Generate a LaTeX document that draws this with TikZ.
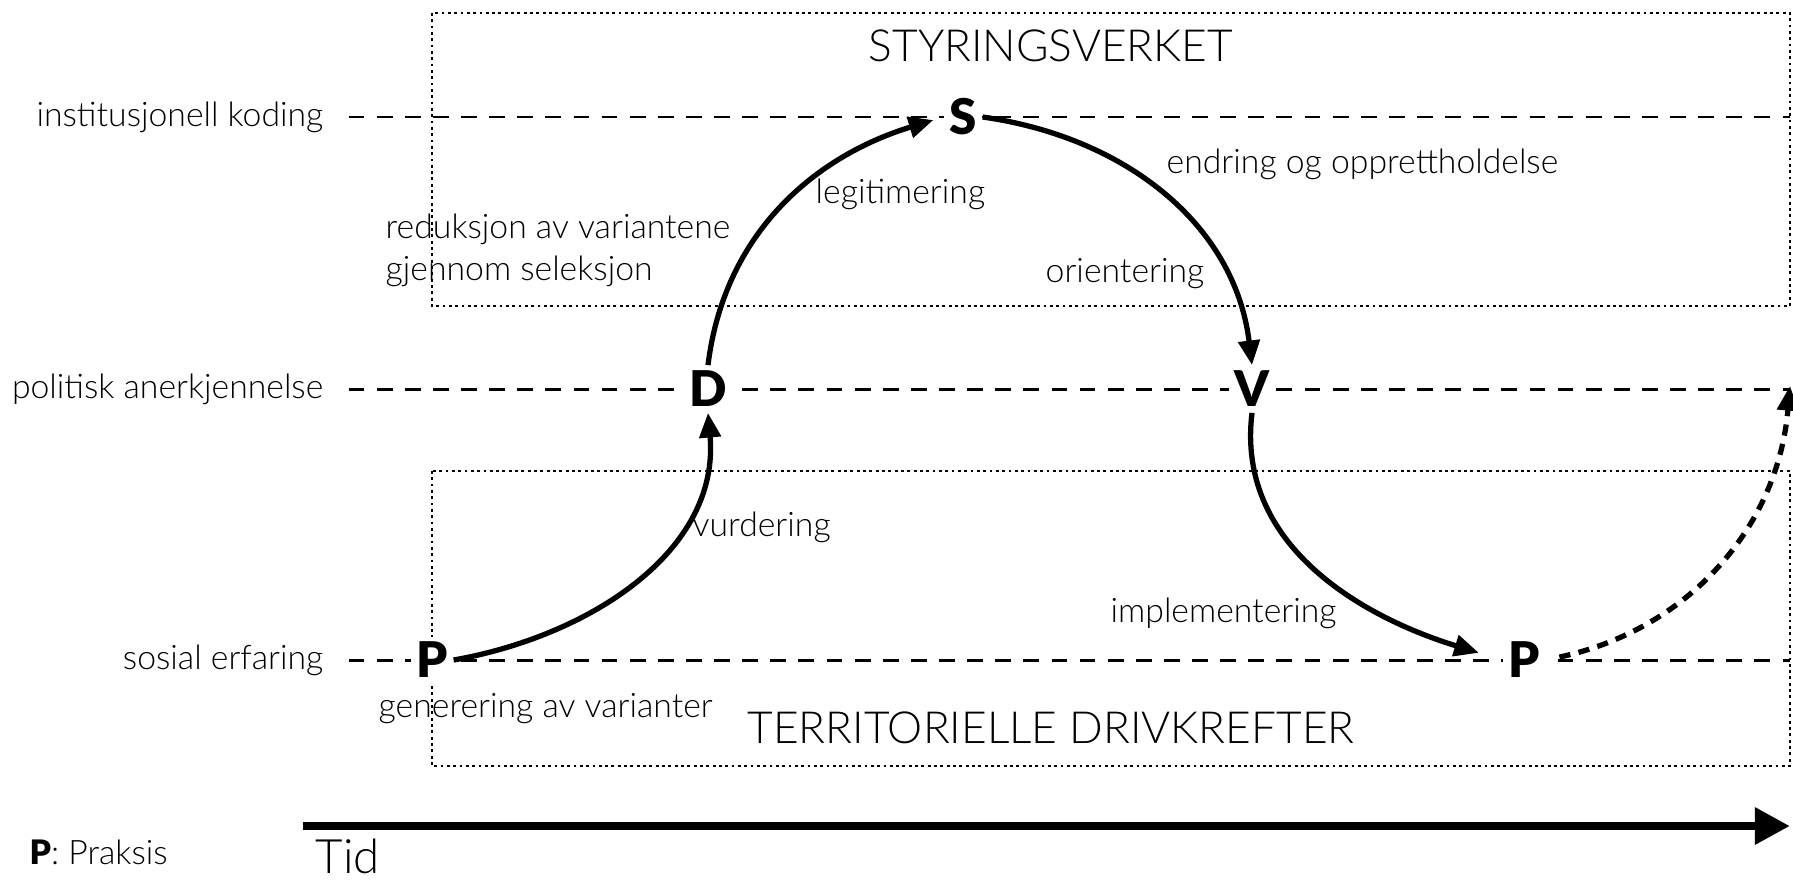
\documentclass[tikz,border=0pt]{standalone}
\usepackage{fontspec}
\setmainfont{Lato}[UprightFont={* Light},BoldFont={* Black}]
\usetikzlibrary{arrows.meta}

\tikzset{
  guide/.style={line width=0.85pt,dash pattern=on 4.5pt off 3.5pt},
  frame/.style={line width=0.8pt,dash pattern=on 0.8pt off 1.0pt},
  flow/.style={line width=1.5pt,-{Triangle[length=7pt,width=6pt]}},
  stage/.style={font=\fontsize{14}{14}\selectfont\bfseries,fill=white,inner sep=1.5pt},
  lbl/.style={font=\fontsize{9.6}{12}\selectfont,inner sep=0pt},
  big/.style={font=\fontsize{12.6}{12.6}\selectfont,inner sep=0pt},
}

\begin{document}
\begin{tikzpicture}
    \useasboundingbox (0,0) rectangle (17.93,-8.80);
    % the two domains
    \draw[frame] (4.32,-0.13) rectangle (17.90,-3.06);
    \draw[frame] (4.32,-4.71) rectangle (17.90,-7.66);
    \node[big] (styr) at (10.51,-0.46) {STYRINGSVERKET};
    \node[big] (terr) at (10.51,-7.28) {TERRITORIELLE DRIVKREFTER};

    % levels
    \node[lbl,anchor=east] (koding) at (3.24,-1.17) {institusjonell koding};
    \node[lbl,anchor=east] (anerk) at (3.24,-3.89) {politisk anerkjennelse};
    \node[lbl,anchor=east] (erfar) at (3.24,-6.60) {sosial erfaring};
    \coordinate (kodingend) at (17.90,-1.17);
    \coordinate (anerkend) at (17.90,-3.89);
    \coordinate (erfarend) at (17.90,-6.60);
    \draw[guide] ([xshift=7pt]koding.east) -- (kodingend);
    \draw[guide] ([xshift=7pt]anerk.east) -- (anerkend);
    \draw[guide] ([xshift=7pt]erfar.east) -- (erfarend);

    % the cycle
    \node[stage] (p1) at (4.32,-6.60) {P};
    \node[stage] (d) at (7.08,-3.89) {D};
    \node[stage] (s) at (9.63,-1.17) {S};
    \node[stage] (v) at (12.52,-3.89) {V};
    \node[stage] (p2) at (15.24,-6.60) {P};
    \coordinate (next) at (17.90,-3.86);

    \draw[flow] (p1.east) to[out=10,in=-85] (d.south);
    \draw[flow,shorten >=3pt] (d.north) to[out=83,in=197] (s.west);
    \draw[flow] (s.east) to[out=-8,in=97] (v.north);
    \draw[flow,shorten >=7pt] (v.south) to[out=-97,in=163] (p2.west);
    \draw[flow,dash pattern=on 3.2pt off 2.4pt,shorten <=4pt] (p2.east) to[out=12,in=-95] (next);

    \node[lbl,anchor=west] (legit) at (8.15,-1.94) {legitimering};
    \node[lbl,anchor=west,align=left] (redu) at (3.85,-2.50) {reduksjon av variantene\\gjennom seleksjon};
    \node[lbl,anchor=west] (endr) at (11.66,-1.64) {endring og opprettholdelse};
    \node[lbl,anchor=west] (orient) at (10.45,-2.74) {orientering};
    \node[lbl,anchor=west] (vurd) at (6.92,-5.27) {vurdering};
    \node[lbl,anchor=west] (impl) at (11.10,-6.13) {implementering};
    \node[lbl,anchor=west] (gener) at (3.78,-7.09) {generering av varianter};

    % time
    \coordinate (t0) at (3.03,-8.26);
    \coordinate (t1) at (17.90,-8.26);
    \draw[line width=2.5pt,-{Triangle[length=10pt,width=10pt]}] (t0) -- (t1);
    \node[big,anchor=west,font=\fontsize{13.5}{13.5}\selectfont] (tid) at (3.15,-8.56) {Tid};
    \node[lbl,anchor=west] (legend) at (0.29,-8.52) {\textbf{P}: Praksis};
\end{tikzpicture}
\end{document}
